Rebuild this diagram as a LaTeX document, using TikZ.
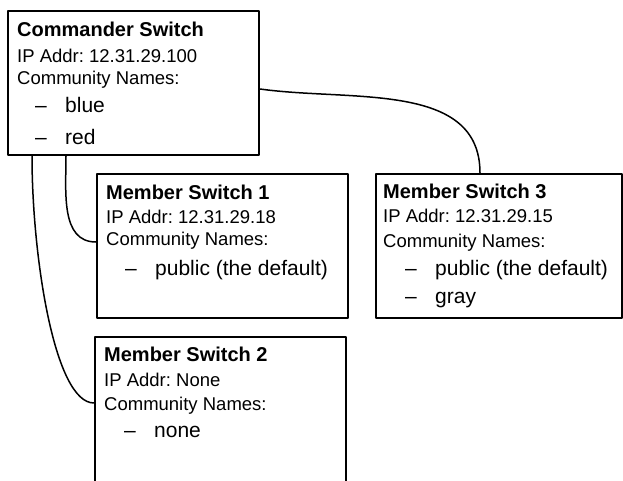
\documentclass[tikz,border=0pt]{standalone}
\usepackage{fontspec}
\setmainfont{Liberation Sans}
\frenchspacing
\begin{document}
\begin{tikzpicture}[x=1pt, y=1pt, line join=round, line cap=round]
	\def\itemdash{\makebox[30pt][l]{\textendash}}
	\tikzset{switchbox/.style={draw, rectangle, line width=2pt, minimum width=251pt, minimum height=144pt, inner sep=0pt},
	link/.style={line width=1.5pt},
	head/.style={anchor=base west, inner sep=0pt, font=\fontsize{20}{22}\selectfont\bfseries},
	info/.style={anchor=base west, inner sep=0pt, font=\fontsize{18.5}{20}\selectfont},
	entry/.style={anchor=base west, inner sep=0pt, font=\fontsize{21}{24}\selectfont}}
	\useasboundingbox (0,0) rectangle (623,480);
	% boxes
	\node[switchbox] (cmd) at (133.5,397) {};
	\node[switchbox] (ms1) at (222.5,234) {};
	\node[switchbox, minimum width=246pt] (ms3) at (499,234) {};
	\node[switchbox, minimum height=146pt] (ms2) at (220.5,70) {};
	% commander
	\node[head] (cmdtitle) at (17,443) {Commander Switch};
	\node[info] (cmdip) at (17,417) {IP Addr: 12.31.29.100};
	\node[info] (cmdcomm) at (17,395) {Community Names:};
	\node[entry] (cmdblue) at (35,367) {\itemdash blue};
	\node[entry] (cmdred) at (35,335) {\itemdash red};
	% member 1
	\node[head] (ms1title) at (106,280) {Member Switch 1};
	\node[info] (ms1ip) at (106,257) {IP Addr: 12.31.29.18};
	\node[info] (ms1comm) at (106,235) {Community Names:};
	\node[entry] (ms1public) at (125,205) {\itemdash public (the default)};
	% member 3
	\node[head] (ms3title) at (383,282) {Member Switch 3};
	\node[info] (ms3ip) at (383,258) {IP Addr: 12.31.29.15};
	\node[info] (ms3comm) at (383,233) {Community Names:};
	\node[entry] (ms3public) at (405,205) {\itemdash public (the default)};
	\node[entry] (ms3gray) at (405,177) {\itemdash gray};
	% member 2
	\node[head] (ms2title) at (104,119) {Member Switch 2};
	\node[info] (ms2ip) at (104,94) {IP Addr: None};
	\node[info] (ms2comm) at (104,70) {Community Names:};
	\node[entry] (ms2none) at (124,43) {\itemdash none};
	%
	\draw[link] ([yshift=-6]cmd.east) to[out=-8, in=90] ([xshift=-19]ms3.north);
	\draw[link] ([xshift=59]cmd.south west) to[out=-90, in=180] ([yshift=4]ms1.west);
	\draw[link] ([xshift=25]cmd.south west) to[out=-90, in=180, in looseness=0.4] ([yshift=7]ms2.west);
\end{tikzpicture}
\end{document}
